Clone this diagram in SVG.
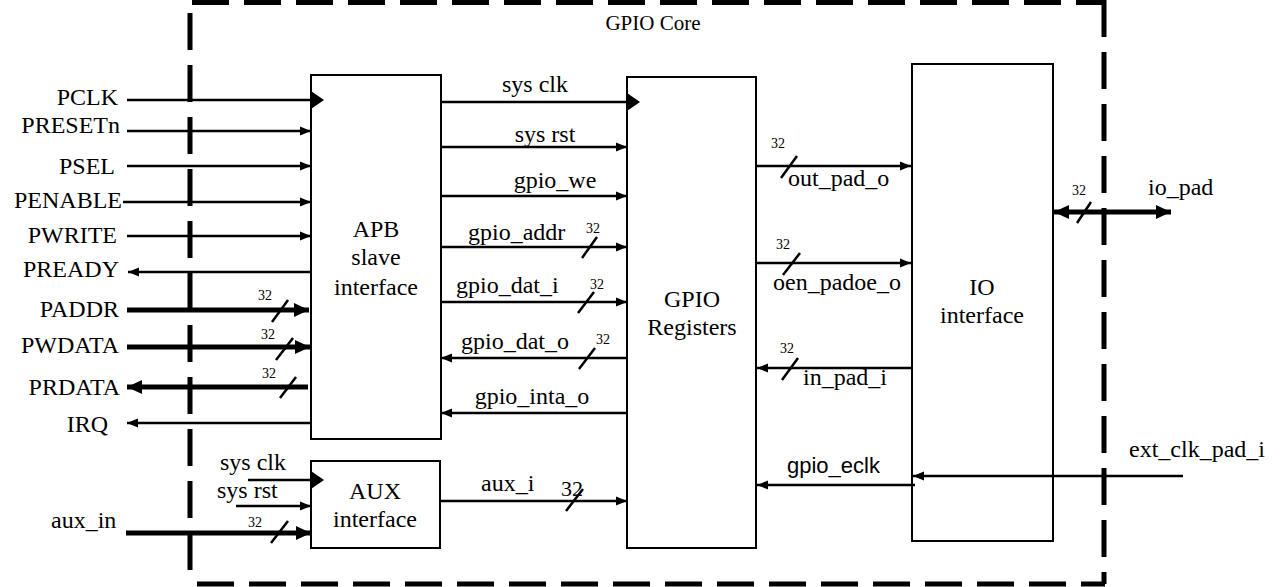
<svg xmlns="http://www.w3.org/2000/svg" width="1280" height="587" viewBox="0 0 1280 587" font-family="'Liberation Serif', 'DejaVu Serif', serif">
<style>
text{font-family:'Liberation Serif','DejaVu Serif',serif;fill:#000}
.l{font-size:24px}
.r{text-anchor:end}
.m{text-anchor:middle}
.n{font-size:14px;text-anchor:middle}
text.s{font-family:'Liberation Sans',Arial,sans-serif;font-size:22px}
.box{fill:#fff;stroke:#000;stroke-width:2}
.w{stroke:#000;stroke-width:2.5;fill:none}
.t{stroke:#000;stroke-width:5;fill:none}
.sl{stroke:#000;stroke-width:2.5}
.d{stroke:#000;stroke-width:5;stroke-dasharray:37 15;fill:none}
</style>
<defs>
<marker id="a" markerUnits="userSpaceOnUse" markerWidth="12" markerHeight="10" refX="11" refY="5" orient="auto-start-reverse"><path d="M0,0.5 L11,5 L0,9.5 z"/></marker>
<marker id="A" markerUnits="userSpaceOnUse" markerWidth="16" markerHeight="14" refX="15" refY="7" orient="auto-start-reverse"><path d="M0,0 L15,7 L0,14 z"/></marker>
<marker id="c" markerUnits="userSpaceOnUse" markerWidth="14" markerHeight="18" refX="0" refY="9" orient="auto"><path d="M0,0 L13,9 L0,18 z"/></marker>
</defs>

<g id="border">
<line class="d" x1="192" y1="2.5" x2="1105" y2="2.5"/>
<line class="d" x1="190" y1="13" x2="190" y2="584"/>
<line class="d" x1="1104" y1="0" x2="1104" y2="584"/>
<line class="d" x1="197" y1="584" x2="1105" y2="584"/>
<text x="653" y="30" class="m" style="font-size:21px">GPIO Core</text>
</g>

<g id="apb">
<rect class="box" x="311" y="75" width="130" height="364"/>
<text class="l m" x="376" y="237">APB</text>
<text class="l m" x="376" y="265">slave</text>
<text class="l m" x="376" y="295">interface</text>
</g>
<g id="aux">
<rect class="box" x="311" y="461" width="129" height="87"/>
<text class="l m" x="375" y="499">AUX</text>
<text class="l m" x="375" y="527">interface</text>
</g>
<g id="regs">
<rect class="box" x="627" y="77" width="129" height="471"/>
<text class="l m" x="692" y="307">GPIO</text>
<text class="l m" x="692" y="335">Registers</text>
</g>
<g id="io">
<rect class="box" x="912" y="64" width="141" height="477"/>
<text class="l m" x="982" y="295">IO</text>
<text class="l m" x="982" y="323">interface</text>
</g>

<g id="connectors">
<line class="w" x1="127" y1="100" x2="311" y2="100" marker-end="url(#c)"/>
<line class="w" x1="127" y1="131" x2="311" y2="131" marker-end="url(#a)"/>
<line class="w" x1="127" y1="166" x2="311" y2="166" marker-end="url(#a)"/>
<line class="w" x1="123" y1="202" x2="311" y2="202" marker-end="url(#a)"/>
<line class="w" x1="127" y1="236" x2="311" y2="236" marker-end="url(#a)"/>
<line class="w" x1="311" y1="272" x2="128" y2="272" marker-end="url(#a)"/>
<line class="t" x1="127" y1="310" x2="309" y2="310" marker-end="url(#A)"/>
<line class="t" x1="127" y1="347" x2="310" y2="347" marker-end="url(#A)"/>
<line class="t" x1="308" y1="387" x2="127" y2="387" marker-end="url(#A)"/>
<line class="w" x1="311" y1="423" x2="127" y2="423" marker-end="url(#a)"/>

<line class="w" x1="248" y1="480" x2="311" y2="480" marker-end="url(#c)"/>
<line class="w" x1="236" y1="506" x2="311" y2="506" marker-end="url(#a)"/>
<line class="t" x1="126" y1="533" x2="311" y2="533" marker-end="url(#A)"/>

<line class="w" x1="441" y1="102" x2="627" y2="102" marker-end="url(#c)"/>
<line class="w" x1="441" y1="147" x2="627" y2="147" marker-end="url(#a)"/>
<line class="w" x1="441" y1="196" x2="627" y2="196" marker-end="url(#a)"/>
<line class="w" x1="441" y1="247" x2="627" y2="247" marker-end="url(#a)"/>
<line class="w" x1="441" y1="302" x2="627" y2="302" marker-end="url(#a)"/>
<line class="w" x1="627" y1="358" x2="441" y2="358" marker-end="url(#a)"/>
<line class="w" x1="627" y1="413" x2="441" y2="413" marker-end="url(#a)"/>
<line class="w" x1="440" y1="501" x2="627" y2="501" marker-end="url(#a)"/>

<line class="w" x1="756" y1="166" x2="911" y2="166" marker-end="url(#a)"/>
<line class="w" x1="756" y1="263" x2="911" y2="263" marker-end="url(#a)"/>
<line class="w" x1="912" y1="368" x2="757" y2="368" marker-end="url(#a)"/>
<line class="w" x1="915" y1="485" x2="757" y2="485" marker-end="url(#a)"/>
<line class="w" x1="1183" y1="476" x2="913" y2="476" marker-end="url(#a)"/>
<line class="t" x1="1054" y1="212" x2="1171" y2="212" marker-start="url(#A)" marker-end="url(#A)"/>

<line class="sl" x1="272" y1="322" x2="288" y2="300"/>
<line class="sl" x1="276" y1="360" x2="293" y2="338"/>
<line class="sl" x1="280" y1="398" x2="296" y2="377"/>
<line class="sl" x1="271" y1="543" x2="288" y2="521"/>
<line class="sl" x1="582" y1="258" x2="597" y2="237"/>
<line class="sl" x1="578" y1="313" x2="594" y2="292"/>
<line class="sl" x1="579" y1="369" x2="595" y2="348"/>
<line class="sl" x1="566" y1="511" x2="583" y2="489"/>
<line class="sl" x1="781" y1="178" x2="797" y2="156"/>
<line class="sl" x1="783" y1="275" x2="800" y2="253"/>
<line class="sl" x1="782" y1="380" x2="798" y2="358"/>
<line class="sl" x1="1077" y1="223" x2="1091" y2="202"/>
</g>

<g id="labels">
<text class="l r" x="118" y="105">PCLK</text>
<text class="l r" x="120" y="133">PRESETn</text>
<text class="l r" x="115" y="174">PSEL</text>
<text class="l r" x="122" y="208">PENABLE</text>
<text class="l r" x="117" y="243">PWRITE</text>
<text class="l r" x="119" y="277">PREADY</text>
<text class="l r" x="119" y="317">PADDR</text>
<text class="l r" x="119" y="353">PWDATA</text>
<text class="l r" x="120" y="395">PRDATA</text>
<text class="l r" x="108" y="432">IRQ</text>
<text class="l" x="220" y="470">sys clk</text>
<text class="l" x="217" y="498">sys rst</text>
<text class="l" x="51" y="528">aux_in</text>
<text class="n" x="265" y="300">32</text>
<text class="n" x="268" y="339">32</text>
<text class="n" x="269" y="378">32</text>
<text class="n" x="255" y="527">32</text>

<text class="l m" x="535" y="92">sys clk</text>
<text class="l m" x="545" y="142">sys rst</text>
<text class="l m" x="555" y="188">gpio_we</text>
<text class="l" x="468" y="240">gpio_addr</text>
<text class="l" x="456" y="293">gpio_dat_i</text>
<text class="l m" x="515" y="349">gpio_dat_o</text>
<text class="l m" x="532" y="404">gpio_inta_o</text>
<text class="l" x="481" y="491">aux_i</text>
<text class="n" x="593" y="233">32</text>
<text class="n" x="597" y="289">32</text>
<text class="n" x="603" y="344">32</text>
<text x="572" y="496" style="font-size:22px;text-anchor:middle">32</text>

<text class="n" x="778" y="148">32</text>
<text class="n" x="783" y="249">32</text>
<text class="n" x="787" y="353">32</text>
<text class="l" x="788" y="186">out_pad_o</text>
<text class="l" x="773" y="290">oen_padoe_o</text>
<text class="l" x="803" y="385">in_pad_i</text>
<text class="s" x="787" y="473">gpio_eclk</text>

<text class="n" x="1079" y="195">32</text>
<text class="l" x="1148" y="195">io_pad</text>
<text class="l" x="1129" y="457">ext_clk_pad_i</text>
</g>
</svg>
